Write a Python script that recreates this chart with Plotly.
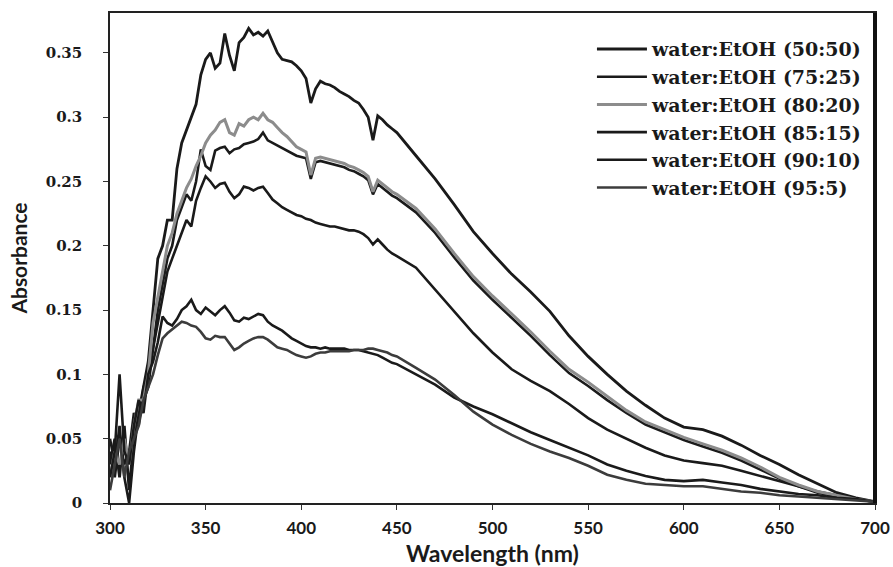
import plotly.graph_objects as go

WAVELENGTH = [300, 302.5, 305, 307.5, 310, 312.5, 315, 317.5, 320, 322.5, 325, 327.5, 330, 332.5, 335, 337.5,
              340, 342.5, 345, 347.5, 350, 352.5, 355, 357.5, 360, 362.5, 365, 367.5, 370, 372.5, 375, 377.5,
              380, 382.5, 385, 387.5, 390, 392.5, 395, 397.5, 400, 402.5, 405, 407.5, 410, 412.5, 415, 417.5,
              420, 422.5, 425, 427.5, 430, 432.5, 435, 437.5, 440, 442.5, 445, 447.5, 450,
              460, 470, 480, 490, 500, 510, 520, 530, 540, 550, 560, 570, 580, 590, 600, 610, 620, 630, 640,
              650, 660, 670, 680, 690, 700]

ABS_50_50 = [0.03, 0.05, 0.02, 0.06, 0.01, 0.05, 0.07, 0.09, 0.11, 0.15, 0.19, 0.20, 0.22, 0.22, 0.26, 0.28,
             0.29, 0.30, 0.31, 0.333, 0.345, 0.35, 0.338, 0.342, 0.365, 0.348, 0.336, 0.358, 0.362, 0.369, 0.364, 0.366,
             0.363, 0.367, 0.358, 0.350, 0.345, 0.344, 0.343, 0.340, 0.336, 0.330, 0.311, 0.322, 0.328, 0.326, 0.325, 0.323,
             0.320, 0.318, 0.316, 0.313, 0.311, 0.306, 0.300, 0.282, 0.301, 0.298, 0.294, 0.291, 0.288,
             0.270, 0.252, 0.232, 0.211, 0.194, 0.178, 0.164, 0.149, 0.130, 0.114, 0.100, 0.087, 0.076, 0.066, 0.059,
             0.057, 0.052, 0.045, 0.037, 0.030, 0.022, 0.015, 0.008, 0.004, 0.001]

ABS_75_25 = [0.05, 0.03, 0.06, 0.02, 0.00, 0.04, 0.07, 0.08, 0.09, 0.12, 0.14, 0.16, 0.18, 0.19, 0.20, 0.21,
             0.22, 0.215, 0.235, 0.245, 0.254, 0.250, 0.245, 0.248, 0.249, 0.242, 0.237, 0.240, 0.246, 0.245, 0.243, 0.245,
             0.246, 0.241, 0.236, 0.233, 0.230, 0.228, 0.226, 0.224, 0.223, 0.221, 0.220, 0.218, 0.217, 0.216, 0.215, 0.215,
             0.214, 0.213, 0.212, 0.212, 0.211, 0.209, 0.206, 0.201, 0.205, 0.201, 0.197, 0.194, 0.192,
             0.183, 0.166, 0.149, 0.132, 0.117, 0.104, 0.095, 0.087, 0.077, 0.066, 0.057, 0.050, 0.043, 0.037, 0.033,
             0.031, 0.029, 0.025, 0.021, 0.017, 0.013, 0.009, 0.006, 0.003, 0.001]

ABS_80_20 = [0.02, 0.04, 0.03, 0.05, 0.03, 0.06, 0.08, 0.08, 0.10, 0.14, 0.16, 0.18, 0.20, 0.21, 0.225, 0.235,
             0.245, 0.252, 0.262, 0.27, 0.28, 0.286, 0.29, 0.296, 0.298, 0.288, 0.286, 0.295, 0.293, 0.298, 0.300, 0.298,
             0.303, 0.298, 0.296, 0.292, 0.288, 0.285, 0.281, 0.277, 0.275, 0.273, 0.255, 0.268, 0.269, 0.268, 0.267, 0.266,
             0.265, 0.264, 0.262, 0.261, 0.259, 0.257, 0.254, 0.242, 0.251, 0.248, 0.245, 0.242, 0.240,
             0.229, 0.213, 0.194, 0.176, 0.161, 0.147, 0.133, 0.118, 0.104, 0.094, 0.083, 0.072, 0.063, 0.057, 0.051,
             0.046, 0.041, 0.035, 0.028, 0.020, 0.014, 0.009, 0.006, 0.003, 0.001]

ABS_85_15 = [0.04, 0.02, 0.05, 0.03, 0.04, 0.07, 0.06, 0.09, 0.10, 0.12, 0.15, 0.17, 0.19, 0.20, 0.22, 0.23,
             0.24, 0.235, 0.25, 0.275, 0.262, 0.259, 0.274, 0.276, 0.277, 0.272, 0.275, 0.276, 0.279, 0.280, 0.281, 0.283,
             0.288, 0.282, 0.280, 0.278, 0.276, 0.274, 0.272, 0.270, 0.269, 0.268, 0.252, 0.265, 0.266, 0.265, 0.264, 0.263,
             0.262, 0.261, 0.259, 0.258, 0.256, 0.254, 0.251, 0.240, 0.248, 0.245, 0.242, 0.239, 0.237,
             0.226, 0.210, 0.191, 0.173, 0.158, 0.144, 0.130, 0.115, 0.101, 0.091, 0.080, 0.070, 0.061, 0.055, 0.049,
             0.044, 0.039, 0.033, 0.026, 0.019, 0.013, 0.008, 0.005, 0.003, 0.001]

ABS_90_10 = [0.02, 0.04, 0.10, 0.04, 0.03, 0.06, 0.08, 0.07, 0.10, 0.11, 0.125, 0.145, 0.140, 0.138, 0.143, 0.150,
             0.153, 0.158, 0.150, 0.147, 0.152, 0.149, 0.146, 0.150, 0.153, 0.148, 0.142, 0.141, 0.144, 0.143, 0.145, 0.147,
             0.146, 0.141, 0.138, 0.136, 0.134, 0.131, 0.128, 0.126, 0.124, 0.122, 0.121, 0.121, 0.120, 0.121, 0.120, 0.120,
             0.120, 0.120, 0.119, 0.119, 0.119, 0.118, 0.117, 0.116, 0.115, 0.113, 0.111, 0.109, 0.108,
             0.100, 0.092, 0.082, 0.075, 0.069, 0.062, 0.055, 0.049, 0.043, 0.037, 0.030, 0.025, 0.021, 0.018, 0.017,
             0.018, 0.016, 0.014, 0.011, 0.009, 0.007, 0.006, 0.004, 0.003, 0.001]

ABS_95_5 = [0.01, 0.03, 0.05, 0.02, 0.04, 0.05, 0.06, 0.08, 0.09, 0.10, 0.115, 0.128, 0.132, 0.135, 0.138, 0.141,
            0.140, 0.138, 0.137, 0.133, 0.128, 0.127, 0.130, 0.129, 0.129, 0.124, 0.119, 0.121, 0.124, 0.126, 0.128, 0.129,
            0.129, 0.127, 0.124, 0.121, 0.120, 0.119, 0.117, 0.115, 0.114, 0.113, 0.114, 0.116, 0.117, 0.117, 0.118, 0.118,
            0.118, 0.118, 0.118, 0.119, 0.119, 0.119, 0.120, 0.120, 0.119, 0.118, 0.117, 0.115, 0.114,
            0.105, 0.096, 0.084, 0.071, 0.061, 0.053, 0.046, 0.040, 0.035, 0.029, 0.022, 0.018, 0.015, 0.014, 0.013,
            0.013, 0.011, 0.009, 0.008, 0.006, 0.005, 0.004, 0.003, 0.002, 0.001]

SERIES_NAMES = ["water:EtOH (50:50)", "water:EtOH (75:25)", "water:EtOH (80:20)",
                "water:EtOH (85:15)", "water:EtOH (90:10)", "water:EtOH (95:5)"]
SERIES_VALUES = [ABS_50_50, ABS_75_25, ABS_80_20, ABS_85_15, ABS_90_10, ABS_95_5]
COLORS = ["#1a1a1a", "#1a1a1a", "#8c8c8c", "#1a1a1a", "#1a1a1a", "#3c3c3c"]
WIDTHS = [2.8, 2.6, 3.0, 2.6, 2.6, 2.6]
DRAW_ORDER = [0, 1, 3, 2, 4, 5]

X_TICKS = [300, 350, 400, 450, 500, 550, 600, 650, 700]
Y_TICKS = [0, 0.05, 0.1, 0.15, 0.2, 0.25, 0.3, 0.35]
Y_TICK_TEXT = ["0", "0.05", "0.1", "0.15", "0.2", "0.25", "0.3", "0.35"]

fig = go.Figure()
for i in DRAW_ORDER:
    fig.add_trace(go.Scatter(
        x=WAVELENGTH, y=SERIES_VALUES[i], name=SERIES_NAMES[i], mode="lines",
        line=dict(color=COLORS[i], width=WIDTHS[i]),
        legendrank=i + 1, legendgroup=SERIES_NAMES[i],
    ))

fig.update_layout(
    width=893, height=567,
    margin=dict(l=110, r=18, t=13, b=64),
    paper_bgcolor="white", plot_bgcolor="white",
    showlegend=True,
    legend=dict(
        x=0.630, y=0.965, xanchor="left", yanchor="top",
        bgcolor="rgba(255,255,255,0)", borderwidth=0,
        font=dict(family="DejaVu Serif", size=19, color="#1a1a1a", weight="bold"),
        itemwidth=50, tracegroupgap=0,
    ),
    xaxis=dict(
        range=[300, 700], tickvals=X_TICKS, ticks="outside", ticklen=5, tickcolor="#333",
        showline=True, linecolor="#222", linewidth=1.5, mirror=True, showgrid=False, zeroline=False,
        tickfont=dict(family="Lato", size=17, color="#1a1a1a", weight="bold"),
        ticklabelstandoff=4, automargin=False,
        title=dict(text="Wavelength (nm)", font=dict(family="Lato", size=23, color="#1a1a1a", weight="bold"),
                   standoff=12),
    ),
    yaxis=dict(
        range=[0, 0.381], tickvals=Y_TICKS, ticktext=Y_TICK_TEXT, ticks="outside", ticklen=5, tickcolor="#333",
        showline=True, linecolor="#222", linewidth=1.5, mirror=True, showgrid=False, zeroline=False,
        tickfont=dict(family="DejaVu Serif", size=15, color="#1a1a1a", weight="bold"),
        ticklabelstandoff=18, automargin=False,
        title=dict(text="Absorbance", font=dict(family="Lato", size=21, color="#1a1a1a", weight="bold"),
                   standoff=12),
    ),
    shapes=[dict(type="line", xref="paper", yref="paper", x0=1, x1=1, y0=0, y1=1,
                 line=dict(color="#111", width=4))],
)

fig.write_html("out.html")
